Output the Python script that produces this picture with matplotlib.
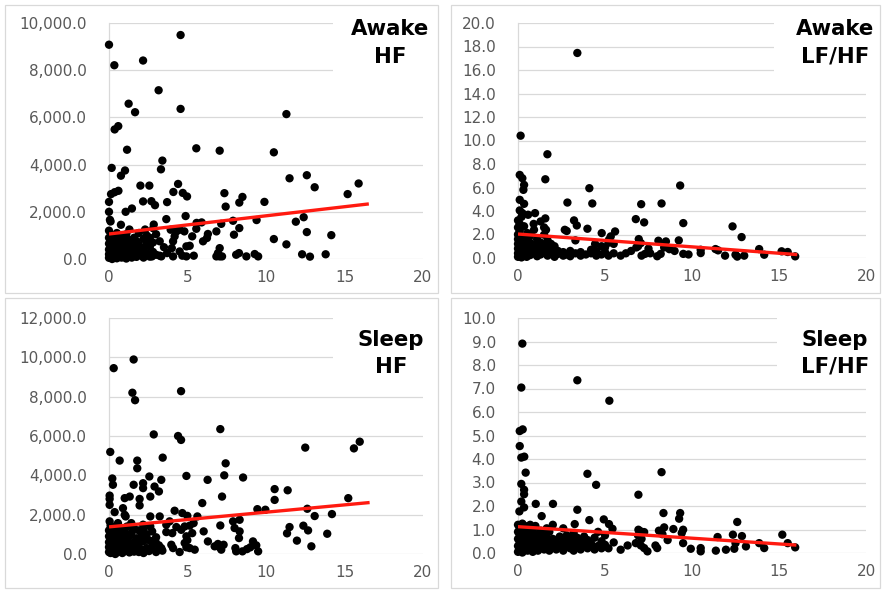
import matplotlib
matplotlib.use("Agg")
import matplotlib.pyplot as plt
from matplotlib.patches import Rectangle
from matplotlib.ticker import FuncFormatter, MultipleLocator
import numpy as np

# ---------------- data ----------------
awake_hf_x = [0, 0.34, 4.56, 2.17, 3.16, 1.25, 1.66, 4.56, 11.3, 0.36, 0.59, 1.15, 5.56, 7.05, 10.5,
              0.17, 1.02, 0.76, 3.4, 3.31, 11.5, 12.6, 13.1, 15.9, 15.2, 4.4, 2.0, 2.57, 4.1, 4.7,
              4.97, 7.35, 7.43, 8.5, 8.3, 9.9, 3.7, 2.17, 2.7, 2.93, 0.13, 0.36, 0.6, 0.0, 0.0,
              1.06, 1.46, 0.06, 0.1, 0.76, 3.65, 4.88, 2.85, 11.9, 12.4, 9.4, 7.9, 5.9, 5.56, 6.3,
              6.24, 6.84, 7.15, 8.3, 7.96, 12.6, 14.16, 10.5, 11.3, 12.3, 12.8, 13.8, 9.28, 9.5, 8.75,
              8.1, 8.28, 6.94, 7.05, 7.2, 6.84, 7.05, 5.99, 5.4, 4.93, 4.67, 4.08, 4.5, 4.0, 3.33,
              3.23, 2.74, 3.23, 4.08, 4.18, 4.93, 5.14, 5.3, 4.5, 4.8, 3.93, 4.3, 5.58, 2.82,
              0.0, 0.0, 0.0, 0.0, 0.0, 0.0, 0.1, 0.1, 0.1, 0.1, 0.2, 0.2, 0.2, 0.2, 0.2,
              0.35, 0.35, 0.35, 0.35, 0.5, 0.5, 0.5, 0.5, 0.5, 0.65, 0.65, 0.65, 0.8, 0.8, 0.8, 0.8,
              0.95, 0.95, 0.95, 1.1, 1.1, 1.1, 1.1, 1.3, 1.3, 1.3, 1.3, 1.45, 1.45, 1.45,
              1.6, 1.6, 1.6, 1.75, 1.75, 1.75, 1.9, 1.9, 1.9, 2.05, 2.05, 2.2, 2.2, 2.2,
              2.4, 2.4, 2.4, 2.6, 2.6, 2.6, 2.8, 2.8, 3.0, 3.0, 3.5, 3.7, 2.3]
awake_hf_y = [9080, 8210, 9490, 8410, 7150, 6580, 6220, 6360, 6140, 5490, 5630, 4630, 4690, 4590, 4520,
              3860, 3750, 3530, 4170, 3800, 3420, 3550, 3040, 3200, 2750, 3180, 3110, 3110, 2840, 2800,
              2650, 2790, 2220, 2630, 2390, 2420, 2410, 2440, 2450, 2280, 2750, 2830, 2890, 2420, 2000,
              2000, 2140, 1660, 1590, 1450, 1690, 1820, 1460, 1580, 1770, 1650, 1620, 1550, 1280, 1060,
              890, 1170, 1490, 1310, 1030, 1140, 1010, 845, 620, 200, 100, 200, 210, 110, 110,
              180, 250, 250, 110, 110, 110, 460, 750, 140, 110, 140, 110, 320, 460, 110,
              140, 110, 750, 750, 960, 535, 560, 960, 1240, 1170, 1240, 1170, 1530, 1300,
              50, 200, 400, 650, 900, 1200, 100, 300, 550, 800, 0, 150, 450, 700, 1000,
              80, 350, 600, 950, 30, 250, 500, 780, 1100, 120, 420, 680, 60, 300, 560, 900,
              200, 450, 750, 20, 340, 620, 1050, 150, 480, 800, 1250, 60, 300, 650,
              200, 520, 900, 90, 420, 760, 250, 600, 1100, 150, 480, 60, 380, 850,
              230, 650, 1000, 100, 520, 900, 300, 700, 180, 1050, 500, 250, 1250]

awake_lfhf_x = [3.41, 0.15, 1.69, 0.1, 0.25, 0.35, 0.31, 1.57, 4.1, 9.32, 0.1, 0.35, 2.84, 4.27, 7.08,
                8.25, 0.1, 0.25, 0.58, 0.98, 1.57, 1.3, 3.22, 3.38, 6.77, 7.25, 9.5, 12.33, 12.85, 3.99,
                2.69, 4.81, 5.58, 5.33, 5.23, 6.94, 7.06, 8.07, 8.5, 9.24, 0.54, 0.92, 1.61, 1.5, 4.43,
                10.5, 11.35, 11.9, 12.5, 13.0, 13.86, 14.15, 15.15, 15.5, 15.93, 10.5, 12.6, 11.5,
                5.9, 6.2, 6.5, 6.8, 7.1, 7.3, 7.6, 8.0, 8.2, 8.4, 8.7, 9.0, 9.5, 9.8, 6.9, 7.5,
                0.0, 0.0, 0.0, 0.0, 0.0, 0.0, 0.0, 0.0, 0.1, 0.1, 0.1, 0.1, 0.1, 0.1,
                0.2, 0.2, 0.2, 0.2, 0.2, 0.35, 0.35, 0.35, 0.35, 0.35, 0.5, 0.5, 0.5, 0.5,
                0.7, 0.7, 0.7, 0.7, 0.9, 0.9, 0.9, 1.1, 1.1, 1.1, 1.1, 1.3, 1.3, 1.3,
                1.5, 1.5, 1.5, 1.7, 1.7, 1.7, 1.9, 1.9, 2.1, 2.1, 2.1, 2.3, 2.3, 2.6, 2.6,
                2.8, 2.8, 3.0, 3.0, 3.3, 3.3, 3.6, 3.6, 3.9, 4.2, 4.2, 4.5, 4.5, 4.8, 4.8,
                5.0, 5.0, 5.2, 5.2, 5.5, 5.5]
awake_lfhf_y = [17.45, 10.41, 8.83, 7.07, 6.79, 6.22, 5.8, 6.7, 5.94, 6.17, 4.95, 4.61, 4.72, 4.64, 4.58,
                4.64, 4.05, 3.82, 3.68, 3.82, 3.37, 3.11, 3.2, 2.77, 3.31, 3.03, 2.97, 2.69, 1.78, 2.49,
                2.4, 2.12, 2.26, 1.84, 1.56, 1.61, 1.27, 1.47, 1.41, 1.5, 2.12, 2.4, 2.4, 1.98, 1.19,
                0.42, 0.76, 0.2, 0.28, 0.2, 0.76, 0.28, 0.57, 0.51, 0.14, 0.7, 0.12, 0.65,
                0.2, 0.4, 0.6, 0.9, 0.2, 0.35, 0.4, 0.15, 0.35, 0.9, 0.75, 0.6, 0.35, 0.3, 1.0, 0.8,
                0.1, 0.4, 0.8, 1.2, 1.6, 2.0, 2.6, 3.2, 0.2, 0.6, 1.0, 1.4, 2.3, 2.9,
                0.05, 0.5, 0.9, 1.8, 3.5, 0.3, 0.7, 1.2, 1.6, 2.7, 0.1, 0.5, 1.0, 1.5,
                0.25, 0.8, 1.3, 1.9, 0.4, 1.1, 2.9, 0.15, 0.6, 1.0, 1.6, 0.3, 0.9, 1.3,
                0.5, 1.1, 2.6, 0.2, 0.8, 1.5, 0.4, 1.2, 0.1, 0.7, 1.0, 0.35, 0.6, 0.2, 0.5,
                0.3, 2.3, 0.6, 0.15, 0.4, 1.5, 0.2, 0.5, 0.3, 0.4, 0.7, 0.2, 0.6, 0.3, 1.0,
                0.5, 0.9, 0.2, 1.3, 0.4, 1.2]

sleep_hf_x = [0.3, 1.57, 1.49, 1.66, 4.59, 2.85, 4.4, 4.59, 7.09, 12.5, 15.6, 15.97, 0.08, 0.68, 1.8,
              1.8, 3.42, 7.43, 0.21, 0.25, 1.57, 2.57, 3.33, 2.17, 2.17, 2.9, 3.18, 4.93, 6.28, 7.34,
              8.54, 7.2, 5.94, 10.55, 10.55, 11.38, 15.24, 0.04, 0.04, 0.04, 1.0, 1.32, 1.95, 1.95, 2.63,
              0.36, 0.89, 1.0, 1.06, 4.18, 9.45, 9.96, 12.63, 13.1, 14.2, 0.04, 0.57, 1.42, 2.17, 2.63,
              2.63, 3.23, 4.67, 4.99, 5.63, 7.09, 7.9, 8.32, 3.65, 3.86, 4.29, 4.82, 5.14, 5.39, 6.03,
              8.0, 8.32, 8.28, 11.5, 11.34, 12.38, 12.68, 13.9, 11.97, 12.89, 9.17, 9.38, 9.0, 8.79, 8.5,
              9.5, 8.05, 8.1, 6.3, 6.94, 7.05, 7.15, 7.3, 6.73, 5.46, 5.14, 4.93, 4.82, 4.99, 4.5,
              4.08, 3.97, 3.4, 3.33, 3.18, 2.97, 2.76, 3.65, 4.03, 4.6, 4.93, 5.3,
              0.0, 0.0, 0.0, 0.0, 0.0, 0.1, 0.1, 0.1, 0.1, 0.1, 0.1, 0.25, 0.25, 0.25, 0.25,
              0.4, 0.4, 0.4, 0.4, 0.4, 0.55, 0.55, 0.55, 0.55, 0.7, 0.7, 0.7, 0.85, 0.85, 0.85, 0.85,
              1.0, 1.0, 1.0, 1.15, 1.15, 1.15, 1.3, 1.3, 1.3, 1.45, 1.45, 1.6, 1.6, 1.6, 1.75, 1.75,
              1.9, 1.9, 1.9, 2.05, 2.05, 2.2, 2.2, 2.2, 2.4, 2.4, 2.55, 2.55, 2.75, 2.75, 3.0, 3.0]
sleep_hf_y = [9450, 9890, 8200, 7820, 8280, 6080, 6000, 5800, 6350, 5410, 5370, 5710, 5190, 4750, 4750,
              4360, 4900, 4610, 3840, 3520, 3520, 3940, 3770, 3600, 3350, 3430, 3180, 3970, 3770, 4000,
              3890, 2920, 2590, 3300, 2750, 3240, 2840, 2970, 2800, 2500, 2840, 2920, 2800, 2470, 2920,
              2130, 2330, 1990, 1910, 2200, 2280, 2250, 2300, 1930, 2030, 1660, 1570, 1570, 1490, 1910,
              1400, 1910, 2080, 1940, 1910, 1450, 1660, 1740, 1490, 1660, 1370, 1400, 1440, 1570, 1150,
              1320, 1150, 810, 1370, 1050, 1440, 1200, 1030, 680, 390, 640, 440, 340, 250, 135,
              135, 300, 135, 640, 510, 340, 220, 470, 390, 220, 300, 340, 560, 700, 100,
              300, 470, 170, 300, 440, 610, 640, 1115, 1060, 1230, 900, 1060,
              100, 350, 600, 900, 1200, 50, 250, 500, 800, 1100, 1450, 150, 420, 700, 1000,
              0, 300, 600, 900, 1300, 100, 450, 750, 1150, 200, 550, 1000, 50, 350, 800, 1250,
              150, 500, 1100, 300, 700, 1400, 80, 450, 900, 250, 1100, 120, 600, 1300, 350, 800,
              100, 550, 1200, 250, 900, 50, 650, 1250, 300, 1000, 150, 700, 400, 1150, 100, 850]

sleep_lfhf_x = [0.25, 0.19, 3.41, 5.25, 0.1, 0.27, 0.1, 0.19, 0.36, 0.44, 3.99, 4.49, 8.25, 0.19, 0.35,
                0.35, 6.92, 0.19, 0.35, 0.08, 1.02, 2.01, 3.41, 8.36, 9.32, 9.26, 1.36, 4.1, 4.93, 5.23,
                5.43, 3.26, 12.6, 8.4, 8.1, 8.93, 9.49, 9.41, 6.92, 7.06, 7.25, 11.47, 12.35, 12.87, 15.19,
                13.86, 14.15, 15.5, 15.93, 10.5, 10.5, 9.93, 11.37, 11.95, 12.43, 13.1, 12.5, 9.49, 8.0, 7.9,
                7.44, 7.25, 7.06, 6.77, 5.9, 6.3, 8.6, 8.3, 7.1, 6.9,
                0.0, 0.0, 0.0, 0.0, 0.0, 0.1, 0.1, 0.1, 0.1, 0.25, 0.25, 0.25, 0.25, 0.25,
                0.4, 0.4, 0.4, 0.4, 0.55, 0.55, 0.55, 0.55, 0.7, 0.7, 0.7, 0.7, 0.85, 0.85, 0.85, 0.85,
                1.0, 1.0, 1.0, 1.0, 1.15, 1.15, 1.15, 1.3, 1.3, 1.3, 1.5, 1.5, 1.5, 1.65, 1.65, 1.65,
                1.8, 1.8, 1.8, 2.0, 2.0, 2.0, 2.2, 2.2, 2.4, 2.4, 2.6, 2.6, 2.6, 2.8, 2.8, 3.0, 3.0,
                3.2, 3.2, 3.2, 3.4, 3.4, 3.6, 3.6, 3.8, 3.8, 4.0, 4.0, 4.2, 4.4, 4.4, 4.6, 4.6,
                4.8, 4.8, 5.0, 5.0, 5.2, 5.5]
sleep_lfhf_y = [8.91, 7.04, 7.35, 6.48, 5.19, 5.26, 4.55, 4.06, 4.1, 3.42, 3.37, 2.9, 3.44, 2.94, 2.69,
                2.5, 2.48, 2.19, 1.94, 1.77, 2.09, 2.09, 1.84, 1.7, 1.7, 1.46, 1.57, 1.4, 1.43, 1.23,
                1.03, 1.23, 1.32, 1.09, 0.95, 1.02, 0.99, 0.85, 0.99, 0.92, 0.89, 0.68, 0.78, 0.72, 0.78,
                0.42, 0.21, 0.42, 0.24, 0.21, 0.07, 0.18, 0.1, 0.14, 0.18, 0.28, 0.42, 0.42, 0.21, 0.32,
                0.07, 0.21, 0.32, 0.42, 0.14, 0.32, 0.55, 0.8, 0.6, 0.75,
                0.05, 0.3, 0.6, 0.9, 1.2, 0.15, 0.45, 0.75, 1.05, 0.02, 0.35, 0.65, 1.0, 1.25,
                0.2, 0.5, 0.8, 1.15, 0.1, 0.4, 0.7, 1.0, 0.25, 0.55, 0.9, 1.2, 0.05, 0.35, 0.65, 1.0,
                0.2, 0.5, 0.8, 1.15, 0.1, 0.4, 0.7, 0.25, 0.6, 0.95, 0.15, 0.45, 0.8, 0.3, 0.65, 1.05,
                0.1, 0.5, 0.9, 0.25, 0.6, 1.2, 0.15, 0.45, 0.3, 0.7, 0.1, 0.5, 1.05, 0.35, 0.75, 0.2, 0.6,
                0.1, 0.45, 0.85, 0.3, 0.65, 0.15, 0.5, 0.35, 0.7, 0.2, 0.55, 0.4, 0.15, 0.65, 0.3, 0.9,
                0.2, 0.5, 0.35, 0.75, 0.2, 0.45]

# trendlines: [intercept, slope, x_end]
awake_hf_trend = [1060, 77.0, 16.55]
awake_lfhf_trend = [2.04, -0.109, 16.05]
sleep_hf_trend = [1380, 74.5, 16.6]
sleep_lfhf_trend = [1.12, -0.049, 16.0]

titles = [["Awake", "HF"], ["Awake", "LF/HF"], ["Sleep", "HF"], ["Sleep", "LF/HF"]]
y_limits = [(0, 10000, 2000), (0, 20, 2), (0, 12000, 2000), (0, 10, 1)]

# ---------------- layout ----------------
W, H = 882, 590
fig = plt.figure(figsize=(W / 100, H / 100), dpi=100)
fig.patch.set_facecolor("white")


def fx(px):
    return px / W


def fy(py):
    return 1 - py / H


# (left, right, top, bottom) in pixels for each plot area
areas = [(109, 423, 23, 259), (518, 866, 23, 258), (109, 423, 318, 554), (518, 866, 318, 553)]
frames = [(5, 438, 5, 293), (451, 880, 5, 293), (5, 438, 298, 588), (451, 880, 298, 588)]
title_boxes = [(333, 437, 6, 76), (774, 879, 6, 84), (333, 437, 299, 382), (777, 879, 299, 380)]
title_pos = [(390, 35, 63), (835, 35, 63), (391, 346, 373), (835, 346, 373)]

xs = [awake_hf_x, awake_lfhf_x, sleep_hf_x, sleep_lfhf_x]
ys = [awake_hf_y, awake_lfhf_y, sleep_hf_y, sleep_lfhf_y]
trends = [awake_hf_trend, awake_lfhf_trend, sleep_hf_trend, sleep_lfhf_trend]

grid_c = "#d9d9d9"
tick_c = "#595959"

for i in range(4):
    l, r, t, b = frames[i]
    fig.patches.append(Rectangle((fx(l), fy(b)), fx(r) - fx(l), fy(t) - fy(b),
                                 transform=fig.transFigure, fill=False,
                                 edgecolor=grid_c, linewidth=0.9, zorder=0))

for i in range(4):
    l, r, t, b = areas[i]
    ax = fig.add_axes([fx(l), fy(b), fx(r) - fx(l), fy(t) - fy(b)])
    ax.set_facecolor("none")
    ax.set_xlim(0, 20)
    y0, y1, ystep = y_limits[i]
    ax.set_ylim(y0, y1)
    ax.xaxis.set_major_locator(MultipleLocator(5))
    ax.yaxis.set_major_locator(MultipleLocator(ystep))
    ax.yaxis.set_major_formatter(FuncFormatter(lambda v, p: f"{v:,.1f}"))
    ax.set_axisbelow(True)
    ax.grid(axis="y", color=grid_c, linewidth=0.9)
    for s in ["top", "right", "bottom"]:
        ax.spines[s].set_visible(False)
    ax.spines["left"].set_color(grid_c)
    ax.spines["left"].set_linewidth(0.9)
    ax.tick_params(axis="both", length=0, labelsize=11, labelcolor=tick_c)
    ax.tick_params(axis="y", pad=16)
    ax.tick_params(axis="x", pad=8)
    for lab in ax.get_xticklabels() + ax.get_yticklabels():
        lab.set_family("DejaVu Sans")

    ax.scatter(xs[i], ys[i], s=36, color="black", edgecolors="none", zorder=3, clip_on=False)
    a, m, xe = trends[i]
    tx = np.array([0.0, xe])
    ax.plot(tx, a + m * tx, color="#ff1a10", linewidth=2.4, solid_capstyle="butt", zorder=4)

    bl, br, bt, bb = title_boxes[i]
    ax.add_patch(Rectangle((fx(bl), fy(bb)), fx(br) - fx(bl), fy(bt) - fy(bb),
                           transform=fig.transFigure, facecolor="white", edgecolor="none",
                           zorder=2, clip_on=False))
    cx, y1b, y2b = title_pos[i]
    fig.text(fx(cx), fy(y1b), titles[i][0], ha="center", va="baseline",
             fontsize=15.3, fontweight="bold", family="DejaVu Sans", color="black", zorder=10)
    fig.text(fx(cx), fy(y2b), titles[i][1], ha="center", va="baseline",
             fontsize=15.3, fontweight="bold", family="DejaVu Sans", color="black", zorder=10)

fig.savefig("out.png", dpi=100, facecolor="white")
